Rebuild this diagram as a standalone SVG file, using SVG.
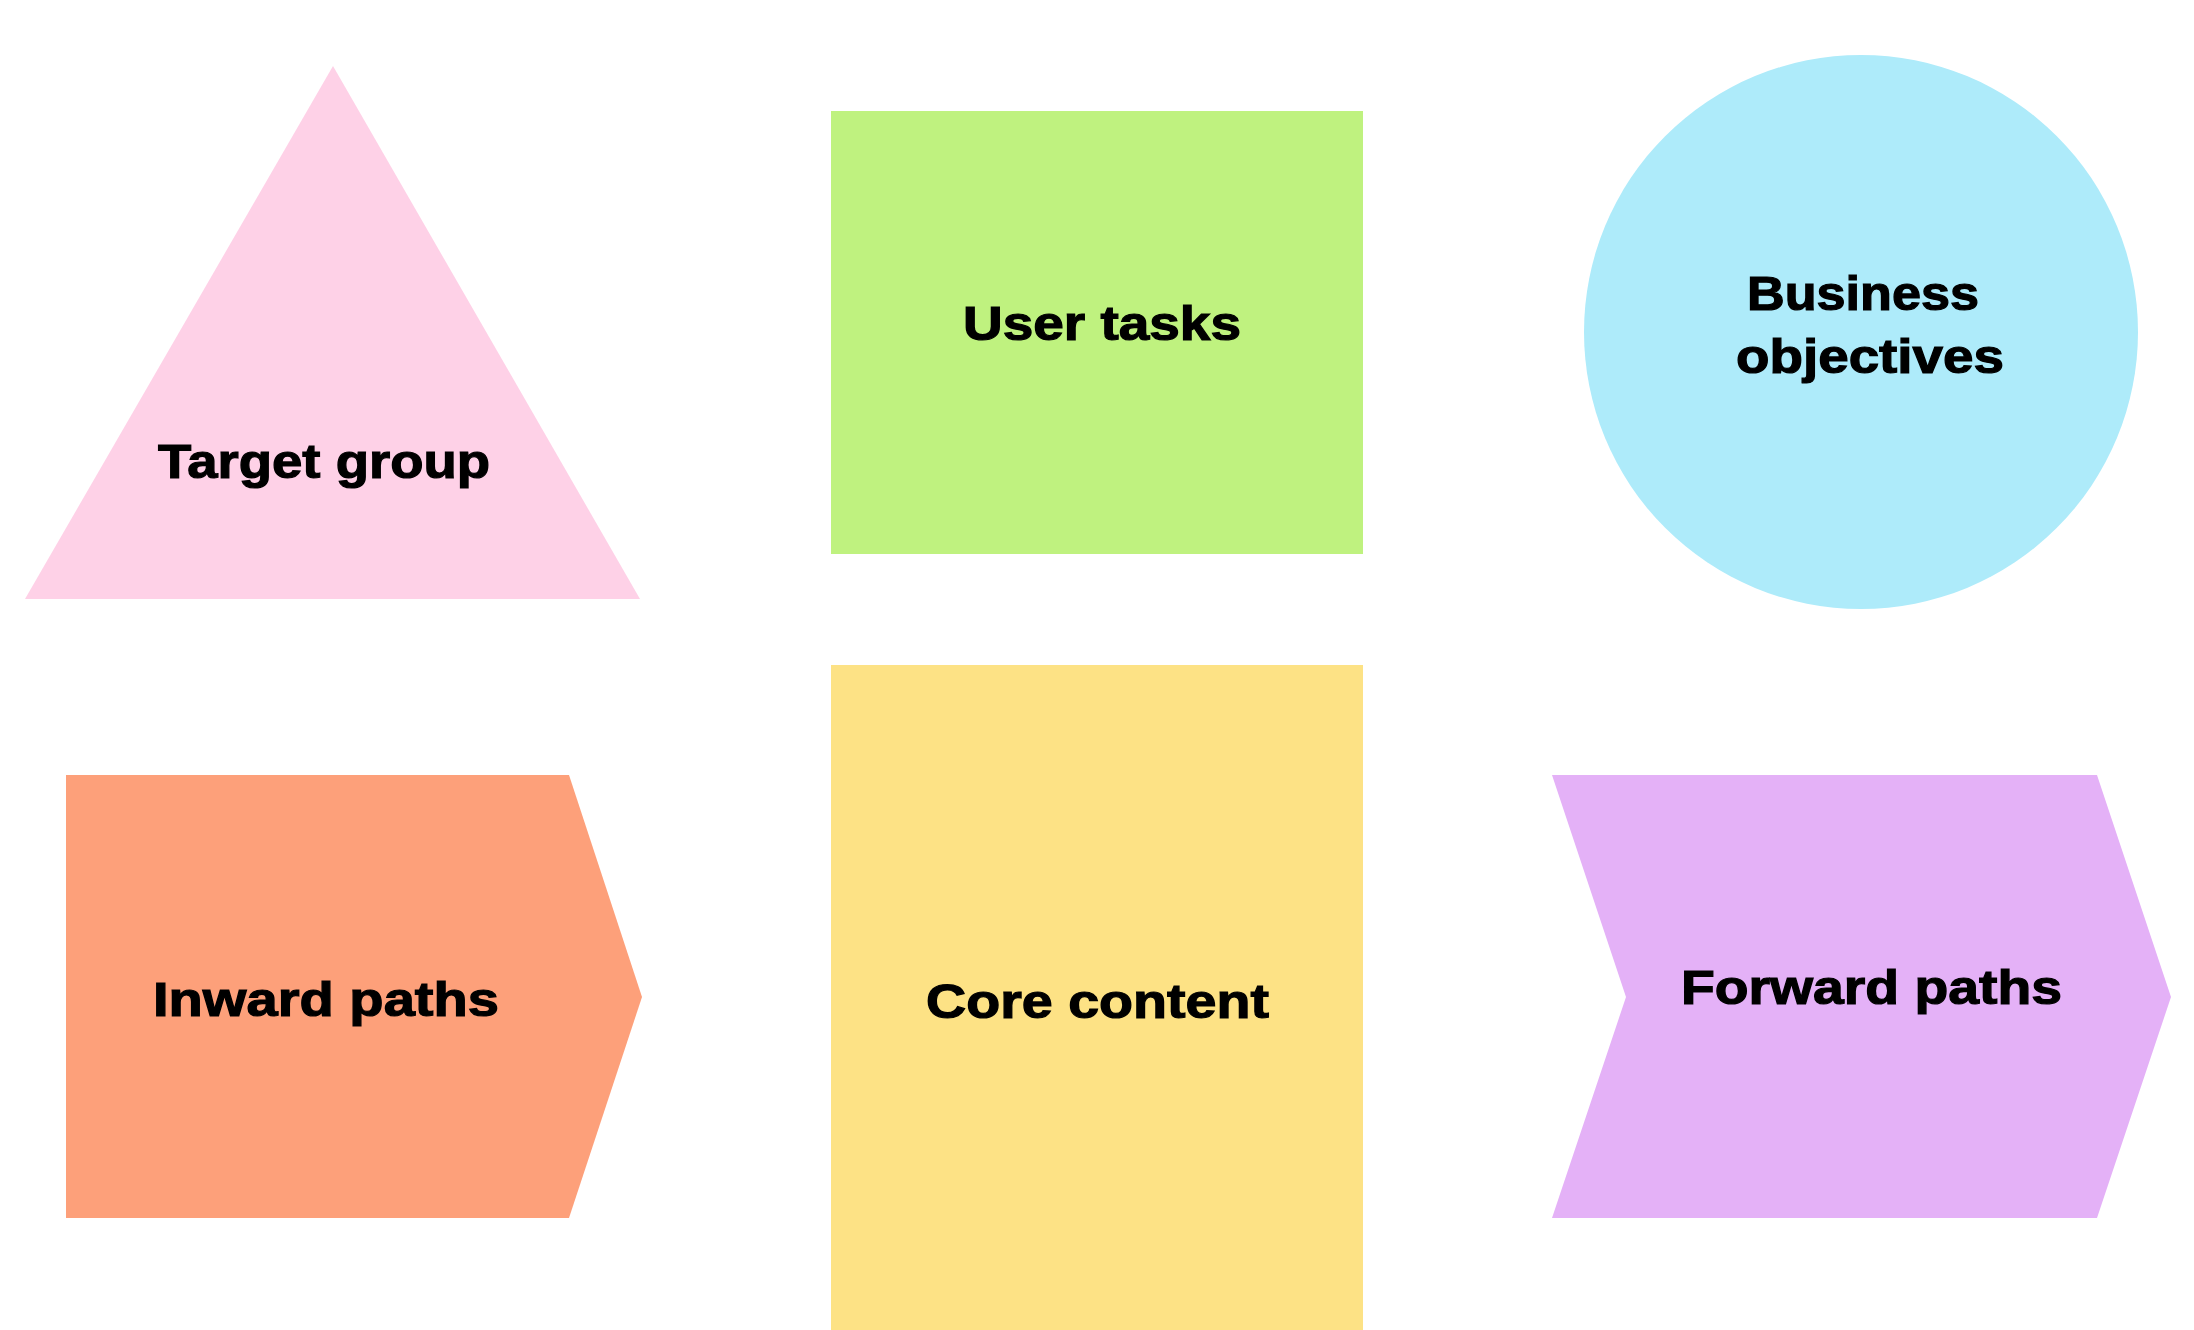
<svg xmlns="http://www.w3.org/2000/svg" width="2194" height="1330" viewBox="0 0 2194 1330">
<style>
.lbl{font-family:"Liberation Sans",Arial,sans-serif;font-weight:bold;font-size:49px;fill:#000000;stroke:#000000;stroke-width:1.2px}
</style>
<rect x="0" y="0" width="2194" height="1330" fill="#ffffff"/>
<g id="connectors"></g>
<g id="target-group">
<polygon points="333,66 640,599 25,599" fill="#FED1E7"/>
<text class="lbl" x="158" y="478" textLength="332" lengthAdjust="spacingAndGlyphs">Target group</text>
</g>
<g id="user-tasks">
<rect x="831" y="111" width="532" height="443" fill="#BFF27F"/>
<text class="lbl" x="963" y="340" textLength="278" lengthAdjust="spacingAndGlyphs">User tasks</text>
</g>
<g id="business-objectives">
<circle cx="1861" cy="332" r="277" fill="#AEEBFA"/>
<text class="lbl" x="1747" y="310" textLength="232" lengthAdjust="spacingAndGlyphs">Business</text>
<text class="lbl" x="1736" y="373" textLength="268" lengthAdjust="spacingAndGlyphs">objectives</text>
</g>
<g id="inward-paths">
<polygon points="66,775 569,775 642,997 569,1218 66,1218" fill="#FDA07A"/>
<text class="lbl" x="153" y="1016" textLength="346" lengthAdjust="spacingAndGlyphs">Inward paths</text>
</g>
<g id="core-content">
<rect x="831" y="665" width="532" height="670" fill="#FDE285"/>
<text class="lbl" x="926" y="1018" textLength="343" lengthAdjust="spacingAndGlyphs">Core content</text>
</g>
<g id="forward-paths">
<polygon points="1552,775 2097,775 2171,997 2097,1218 1552,1218 1626,997" fill="#E4B1F7"/>
<text class="lbl" x="1681" y="1004" textLength="381" lengthAdjust="spacingAndGlyphs">Forward paths</text>
</g>
</svg>
